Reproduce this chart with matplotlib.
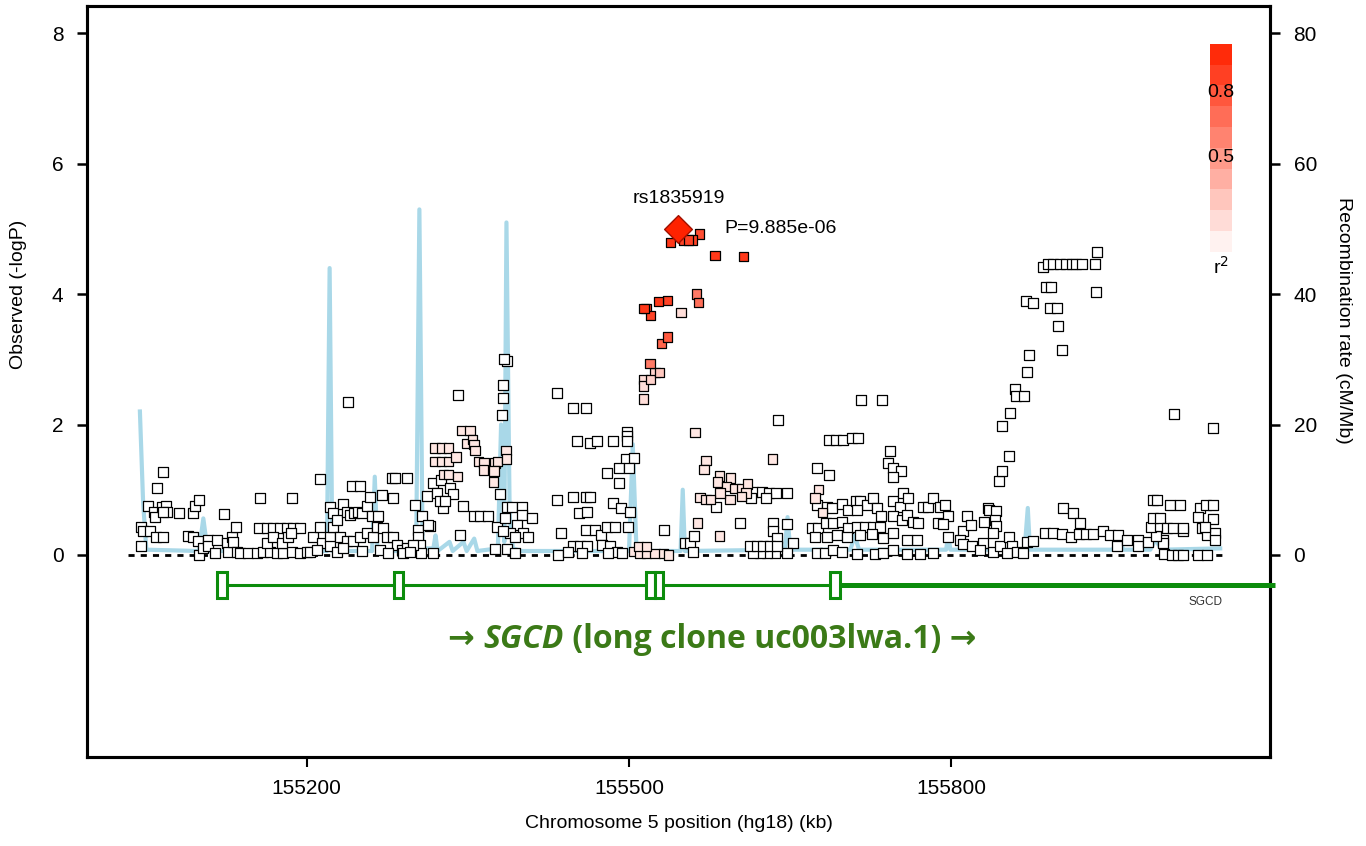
import numpy as np
import matplotlib
matplotlib.use("Agg")
import matplotlib.pyplot as plt
from matplotlib.colors import LinearSegmentedColormap
from matplotlib.patches import Rectangle

plt.rcParams["font.family"] = ["Liberation Sans", "DejaVu Sans"]

# SNPs with r2 ~ 0 (white squares): position (kb) and -log10 P
nold_kb = [
    155045.7, 155045.7, 155047.6, 155054.4, 155052.9, 155060.6, 155066.8, 155058.1, 155059.1, 155065.3,
    155069.3, 155069.9, 155066.8, 155060.0, 155066.8, 155081.7, 155094.7, 155096.3, 155100.0, 155090.1,
    155094.7, 155099.4, 155100.3, 155104.0, 155108.7, 155108.7, 155116.4, 155114.9, 155123.3, 155125.7,
    155130.4, 155134.4, 155127.3, 155131.9, 155135.0, 155138.1, 155145.9, 155153.6, 155159.8, 155166.0,
    155172.2, 155178.4, 155186.2, 155194.0, 155200.2, 155156.7, 155186.2, 155156.1, 155163.0, 155169.2,
    155175.4, 155181.6, 155187.8, 155194.0, 155163.0, 155169.2, 155176.9, 155183.1, 155185.3, 155206.4,
    155212.6, 155214.1, 155221.9, 155221.9, 155225.0, 155212.6, 155221.9, 155225.0, 155228.7, 155233.7,
    155237.4, 155240.5, 155244.2, 155248.2, 155251.3, 155256.0, 155259.1, 155242.0, 155249.8, 155231.2,
    155237.4, 155243.6, 155249.8, 155256.0, 155262.2, 155265.3, 155271.5, 155274.6, 155280.8, 155283.9,
    155288.5, 155260.6, 155266.8, 155269.9, 155280.8, 155279.2, 155282.3, 155293.2, 155239.0, 155300.9,
    155307.1, 155314.9, 155311.8, 155318.0, 155321.7, 155324.8, 155327.3, 155333.5, 155336.6, 155324.2,
    155328.9, 155341.3, 155383.1, 155383.1, 155381.6, 155386.2, 155384.0, 155380.0, 155345.3, 155355.8,
    155361.4, 155369.2, 155342.8, 155386.2, 155390.9, 155400.2, 155400.2, 155410.1, 155376.9, 155384.7,
    155395.5, 155389.3, 155401.7, 155394.0, 155406.4, 155383.1, 155375.4, 155386.2, 155394.0, 155304.0,
    155304.0, 155305.6, 155306.2, 155318.0, 155293.2, 155299.4, 155313.4, 155203.0, 155210.0, 155228.0,
    155234.0, 155252.0, 155268.0, 155276.0, 155290.0, 155296.0,
    155433.3, 155448.2, 155460.0, 155451.9, 155463.7, 155470.5, 155484.8, 155497.8, 155498.4, 155498.4,
    155497.2, 155504.7, 155491.0, 155500.3, 155479.2, 155491.0, 155433.3, 155448.2, 155460.0, 155463.7,
    155453.8, 155460.6, 155484.8, 155492.2, 155500.9, 155436.4, 155460.0, 155468.4, 155473.6, 155479.2,
    155487.0, 155499.4, 155448.2, 155454.4, 155460.6, 155474.6, 155482.3, 155488.5, 155434.3, 155443.6,
    155456.0, 155480.8, 155493.2, 155532.6, 155552.1, 155556.7, 155560.5, 155559.9, 155603.3, 155615.7,
    155623.4, 155630.6, 155636.8, 155646.7, 155627.5, 155613.2, 155581.0, 155638.9, 155634.3, 155646.7,
    155634.3, 155638.0, 155652.9, 155646.7, 155635.8, 155628.1, 155621.9, 155615.7, 155612.6, 155618.8,
    155625.0, 155631.2, 155637.4, 155715.5, 155735.0, 155686.4, 155692.6, 155699.4, 155707.1, 155713.4,
    155742.8, 155741.3, 155745.9, 155752.7, 155745.3, 155674.6, 155686.4, 155674.6, 155684.5, 155688.6,
    155697.8, 155704.0, 155711.2, 155714.9, 155721.1, 155726.7, 155730.4, 155734.2, 155712.4, 155669.9,
    155676.1, 155683.3, 155690.1, 155697.8, 155704.0, 155711.8, 155719.5, 155727.3, 155733.5, 155673.0,
    155683.9, 155693.2, 155702.5, 155714.9, 155725.8, 155736.6, 155674.6, 155682.3, 155690.1, 155697.8,
    155711.8, 155728.9, 155736.6, 155745.9, 155758.3, 155770.7, 155783.1, 155745.3, 155752.1, 155755.2,
    155759.8, 155746.0, 155753.7, 155758.3, 155764.5, 155769.2, 155773.2, 155778.5, 155783.1, 155789.3,
    155794.0, 155797.1, 155787.8, 155792.4, 155797.1, 155767.6, 155758.3, 155745.9,
    155810.4, 155814.2, 155817.9, 155808.0, 155810.4, 155818.8, 155829.0, 155830.3, 155834.3, 155835.2,
    155841.5, 155840.5, 155841.5, 155839.0, 155826.6, 155839.0, 155845.2, 155853.8, 155856.0, 155851.4,
    155860.7, 155866.9, 155870.0, 155876.2, 155887.0, 155894.8, 155902.5, 155910.9, 155919.0, 155925.2,
    155932.0, 155941.3, 155947.5, 155955.2, 155953.7, 155963.0, 155973.9, 155973.9, 155983.2, 155996.5,
    155997.1, 155990.3, 155985.3, 155994.0, 155987.2, 155994.0, 156000.2, 156006.4, 156015.1, 156015.7,
    155987.2, 155990.9, 156003.3, 156012.5, 155997.7, 156004.9, 156011.1, 156015.7, 156029.7, 156037.4,
    156031.2, 156036.8, 156043.6, 156029.7, 156043.6, 156032.8, 156038.0, 156045.2, 156045.2, 156035.9,
    156007.0, 156043.6, 155903.5, 155913.4, 155919.6, 155844.5, 155846.7, 155853.8, 155846.7, 155854.5,
    155859.1, 155860.0, 155867.4, 155870.6, 155872.4, 155869.3, 155875.5, 155887.9, 155892.3, 155891.6,
    155898.5, 155899.4, 155903.1, 155885.4, 155890.1, 155894.7, 155900.9, 155906.5, 155911.8, 155915.8,
    155921.1, 155933.5, 155935.0, 155934.4,
]
nold_logp = [
    0.13, 0.43, 0.36, 0.37, 0.75, 1.02, 1.27, 0.66, 0.58, 0.74,
    0.75, 0.66, 0.66, 0.27, 0.27, 0.65, 0.65, 0.75, 0.84, 0.29,
    0.28, 0.21, 0.00, 0.10, 0.23, 0.13, 0.23, 0.03, 0.63, 0.18,
    0.28, 0.43, 0.05, 0.20, 0.04, 0.03, 0.03, 0.03, 0.05, 0.04,
    0.03, 0.03, 0.04, 0.03, 0.04, 0.87, 0.87, 0.42, 0.42, 0.42,
    0.42, 0.42, 0.42, 0.42, 0.18, 0.28, 0.18, 0.28, 0.34, 0.28,
    0.43, 0.18, 0.28, 0.13, 0.43, 1.16, 0.74, 0.64, 0.54, 0.78,
    0.66, 0.61, 0.64, 0.66, 0.64, 0.75, 0.89, 1.06, 1.06, 0.28,
    0.22, 0.22, 0.28, 0.33, 0.28, 0.43, 0.42, 0.28, 0.28, 0.15,
    0.08, 0.59, 0.59, 0.92, 0.87, 1.18, 1.18, 1.18, 2.34, 0.77,
    0.59, 0.44, 0.90, 1.10, 0.95, 1.15, 0.72, 1.02, 0.94, 0.83,
    0.83, 2.45, 2.61, 2.40, 2.15, 2.97, 3.00, 0.94, 0.75, 0.59,
    0.59, 0.59, 0.31, 0.74, 0.74, 0.74, 0.61, 0.56, 0.43, 0.56,
    0.46, 0.34, 0.33, 0.28, 0.28, 0.36, 0.09, 0.09, 0.03, 0.38,
    0.28, 0.15, 0.03, 0.03, 0.10, 0.15, 0.46, 0.05, 0.08, 0.05,
    0.10, 0.06, 0.08, 0.03, 0.03, 0.05,
    2.49, 2.26, 2.26, 1.75, 1.72, 1.75, 1.75, 1.89, 1.83, 1.74,
    1.47, 1.49, 1.34, 1.34, 1.26, 1.10, 0.84, 0.89, 0.89, 0.89,
    0.64, 0.66, 0.79, 0.72, 0.66, 0.34, 0.38, 0.38, 0.31, 0.43,
    0.43, 0.43, 0.13, 0.13, 0.13, 0.15, 0.13, 0.05, 0.00, 0.05,
    0.03, 0.03, 0.03, 0.38, 0.18, 0.18, 0.29, 0.04, 0.49, 0.97,
    0.97, 0.95, 0.95, 0.95, 0.87, 0.88, 0.74, 2.07, 0.49, 0.48,
    0.36, 0.26, 0.18, 0.03, 0.03, 0.03, 0.03, 0.03, 0.13, 0.13,
    0.13, 0.13, 0.13, 2.37, 2.37, 1.76, 1.76, 1.76, 1.80, 1.80,
    1.60, 1.41, 1.34, 1.28, 1.19, 1.33, 1.23, 0.77, 0.74, 0.72,
    0.78, 0.69, 0.82, 0.82, 0.77, 0.88, 0.72, 0.59, 0.69, 0.42,
    0.42, 0.49, 0.49, 0.51, 0.41, 0.43, 0.43, 0.43, 0.43, 0.28,
    0.28, 0.31, 0.28, 0.31, 0.32, 0.26, 0.03, 0.03, 0.08, 0.05,
    0.02, 0.02, 0.03, 0.08, 0.02, 0.02, 0.03, 0.82, 0.74, 0.95,
    0.87, 0.59, 0.54, 0.61, 0.51, 0.49, 0.74, 0.74, 0.87, 0.74,
    0.77, 0.59, 0.49, 0.48, 0.28, 0.23, 0.23, 0.33,
    0.36, 0.59, 0.46, 0.23, 0.17, 0.13, 0.18, 0.50, 0.72, 0.69,
    0.68, 0.54, 0.44, 0.33, 0.07, 0.05, 0.13, 0.28, 0.14, 0.03,
    0.05, 0.03, 0.20, 0.22, 0.34, 0.33, 0.32, 0.27, 0.32, 0.32,
    0.32, 0.36, 0.31, 0.31, 0.13, 0.23, 0.23, 0.13, 0.20, 0.23,
    0.18, 0.29, 0.43, 0.44, 0.56, 0.56, 0.41, 0.41, 0.36, 0.41,
    0.84, 0.84, 0.77, 0.77, 0.02, 0.00, 0.00, 0.00, 0.00, 0.00,
    0.72, 0.77, 0.77, 0.58, 0.55, 0.41, 0.31, 0.34, 0.23, 0.43,
    2.16, 1.95, 0.72, 0.65, 0.49, 1.14, 1.29, 1.51, 1.97, 2.17,
    2.54, 2.43, 2.44, 2.80, 3.06, 3.90, 3.86, 4.11, 4.11, 3.78,
    3.78, 3.51, 3.14, 4.42, 4.46, 4.47, 4.47, 4.47, 4.47, 4.47,
    4.47, 4.47, 4.65, 4.04,
]

# SNPs in weak LD (r2 ~ 0.1, faint pink squares)
weak_kb = [
    155319.5, 155325.7, 155331.9, 155319.5, 155325.7, 155331.9, 155339.1, 155327.3, 155331.9, 155340.3,
    155344.4, 155352.1, 155349.0, 155354.6, 155355.8, 155356.8, 155359.9, 155365.1, 155364.5, 155375.4,
    155377.5, 155374.4, 155373.8, 155385.6, 155386.2,
    155504.0, 155510.2, 155516.4, 155524.2, 155531.9, 155536.6, 155508.7, 155516.4, 155563.6, 155561.4,
    155571.6, 155569.8, 155584.0, 155582.2, 155594.6, 155590.9, 155598.6, 155604.8, 155610.1, 155608.9,
    155604.8, 155594.0, 155584.7, 155566.1, 155571.6, 155576.0, 155584.0, 155633.7, 155676.1, 155673.0,
    155680.2,
]
weak_logp = [
    1.64, 1.64, 1.64, 1.43, 1.43, 1.43, 1.50, 1.23, 1.23, 1.20,
    1.91, 1.91, 1.71, 1.77, 1.69, 1.60, 1.43, 1.41, 1.30, 1.41,
    1.43, 1.29, 1.12, 1.60, 1.47,
    0.05, 0.03, 0.02, 0.02, 0.02, 0.00, 0.13, 0.13, 0.49, 1.88,
    1.45, 1.31, 1.21, 1.12, 1.18, 1.05, 1.02, 1.02, 1.09, 0.95,
    0.90, 0.85, 0.95, 0.88, 0.85, 0.85, 0.29, 1.47, 1.00, 0.87,
    0.65,
]

# SNPs in LD with the index SNP
ld_kb = [
    155538.8, 155550.5, 155555.2, 155559.2, 155565.4, 155580.0, 155606.4, 155514.0, 155515.8, 155520.2,
    155527.3, 155535.7, 155563.0, 155564.5, 155548.4, 155535.7, 155530.4, 155519.5, 155528.2, 155524.2,
    155513.3, 155520.2, 155513.3, 155513.3,
]
ld_logp = [
    4.79, 4.83, 4.83, 4.83, 4.92, 4.59, 4.58, 3.78, 3.78, 3.67,
    3.89, 3.90, 4.00, 3.87, 3.72, 3.34, 3.24, 2.94, 2.80, 2.80,
    2.69, 2.69, 2.59, 2.39,
]
ld_r2 = [
    0.90, 0.85, 0.85, 0.85, 0.80, 0.90, 0.90, 0.90, 0.85, 0.85,
    0.90, 0.85, 0.60, 0.65, 0.15, 0.75, 0.70, 0.60, 0.25, 0.20,
    0.15, 0.20, 0.15, 0.15,
]

top_snp = "rs1835919"
top_kb = 155545.9
top_pval = 9.885e-06

# recombination rate (cM/Mb)
recomb_kb = [
    155045, 155048, 155051, 155100, 155104, 155108, 155219, 155221.5, 155224, 155261,
    155263.5, 155266, 155302, 155305, 155308, 155318, 155320, 155322, 155333, 155336,
    155346, 155349, 155356, 155359, 155378, 155381, 155384, 155386, 155389, 155392,
    155400, 155500, 155503.5, 155507, 155548, 155550, 155552, 155645, 155647.5, 155650,
    155706, 155710, 155714, 155795, 155797, 155799, 155868, 155871, 155873, 155950,
    155955, 155960, 155985, 155990, 155995, 156050,
]
recomb_rate = [
    22, 8, 0.8, 0.6, 5.6, 0.6, 0.6, 44, 0.6, 0.6,
    12, 0.6, 0.6, 53, 1.0, 1.0, 3, 0.6, 2, 0.6,
    2, 0.6, 2.5, 0.6, 1, 20, 2, 51, 6, 1.0,
    0.6, 0.6, 17, 0.6, 0.6, 10, 0.6, 0.8, 5.8, 0.8,
    0.8, 3, 0.8, 0.8, 3, 0.8, 0.8, 7.2, 0.8, 0.8,
    2.5, 0.8, 0.8, 2.4, 0.8, 1.0,
]

# SGCD exons (kb)
exon_start = [155117.0, 155281.4, 155515.8, 155524.0, 155687.2]
exon_end = [155125.7, 155290.0, 155524.0, 155531.9, 155696.5]
gene_end = 156101.0

legend_ticks = ["0.8", "0.5"]
x_ticks = [155200, 155500, 155800]
y_ticks = [0, 2, 4, 6, 8]
recomb_ticks = [0, 20, 40, 60, 80]

GREEN = "#0c8c0c"
TEXT_GREEN = "#3b7a17"
LD_CMAP = LinearSegmentedColormap.from_list("ld", ["#ffffff", "#ff2200"])


def draw_points(ax):
    """Scatter the SNPs, coloured by r2 with the index SNP."""
    sq = dict(marker="s", s=46, edgecolors="black", linewidths=0.9, zorder=5)
    ax.scatter(nold_kb, nold_logp, c="white", **sq)
    ax.scatter(weak_kb, weak_logp, c=[LD_CMAP(0.11)] * len(weak_kb), **sq)

    order = np.argsort(ld_r2)
    ax.scatter(np.array(ld_kb)[order], np.array(ld_logp)[order],
               c=LD_CMAP(np.array(ld_r2)[order]), **sq)

    top_logp = -np.log10(top_pval)
    ax.scatter([top_kb], [top_logp], marker="D", s=200, c="#ff2200",
               edgecolors="#a01000", linewidths=1.0, zorder=7)
    ax.text(top_kb, top_logp + 0.46, top_snp, ha="center", va="center", fontsize=14)
    ax.text(top_kb + 42.5, top_logp + 0.0, f"P={top_pval:.3e}", ha="left",
            va="center", fontsize=14)


def draw_gene(ax):
    """Gene track with exons and the clone label."""
    y = -0.46
    ax.plot([exon_start[0], exon_start[-1]], [y, y], color=GREEN, lw=2.2,
            solid_capstyle="butt", zorder=3)
    ax.plot([exon_start[-1], gene_end], [y, y], color=GREEN, lw=3.6,
            solid_capstyle="butt", zorder=3, clip_on=False)
    for s, e in zip(exon_start, exon_end):
        ax.add_patch(Rectangle((s, -0.655), e - s, 0.39, facecolor="white",
                               edgecolor=GREEN, lw=2.2, zorder=4))
    ax.text(156036, -0.63, "SGCD", ha="center", va="top", fontsize=8.5, color="#333333")

    kw = dict(fontsize=23, color=TEXT_GREEN, fontweight="bold",
              family=["Open Sans", "DejaVu Sans"])
    t1 = ax.text(155332, -1.30, "\u2192 ", ha="left", va="center", **kw)
    t2 = ax.annotate("SGCD", xycoords=t1, xy=(1, 0), va="bottom", style="italic", **kw)
    ax.annotate(" (long clone uc003lwa.1) \u2192", xycoords=t2, xy=(1, 0), va="bottom", **kw)


def draw_legend(ax):
    """r2 colour key in the upper right corner."""
    x0, width = 156040.5, 20.5
    top, bottom = 7.84, 4.65
    n = 10
    h = (top - bottom) / n
    for i in range(n):
        ax.add_patch(Rectangle((x0, bottom + i * h), width, h, facecolor=LD_CMAP((i + 0.6) / n),
                               edgecolor="none", zorder=6))
    xc = x0 + width / 2
    ax.text(xc, 7.09, legend_ticks[0], ha="center", va="center", fontsize=14, zorder=7)
    ax.text(xc, 6.10, legend_ticks[1], ha="center", va="center", fontsize=14, zorder=7)
    ax.text(xc, 4.42, "r$^2$", ha="center", va="center", fontsize=14, zorder=7)


def main():
    fig = plt.figure(figsize=(13.66, 8.46), dpi=100)
    ax = fig.add_axes([0.0637, 0.1052, 0.8660, 0.8877])
    ax2 = ax.twinx()

    xlim = (154995.8, 156096.3)
    ylim = (-3.10, 8.42)
    ax.set_xlim(*xlim)
    ax.set_ylim(*ylim)
    ax2.set_ylim(ylim[0] * 10, ylim[1] * 10)

    ax2.plot(recomb_kb, recomb_rate, color="#a9d8e8", lw=3.0, zorder=1,
             solid_joinstyle="round")
    ax.set_zorder(ax2.get_zorder() + 1)
    ax.patch.set_visible(False)

    ax.plot([155034, 156052], [0, 0], color="black", lw=2.0, ls=(0, (2.2, 2.2)), zorder=2)

    draw_points(ax)
    draw_gene(ax)
    draw_legend(ax)

    ax.set_xticks(x_ticks)
    ax.set_xticklabels([str(v) for v in x_ticks])
    ax.set_yticks(y_ticks)
    ax2.set_yticks(recomb_ticks)
    ax.tick_params(axis="x", length=7, width=1.5, labelsize=15, pad=9)
    ax.tick_params(axis="y", length=7, width=1.8, labelsize=15, pad=10)
    ax2.tick_params(axis="y", length=7, width=1.8, labelsize=15, pad=10)
    for a in (ax, ax2):
        for sp in a.spines.values():
            sp.set_linewidth(2.2)

    ax.set_xlabel("Chromosome 5 position (hg18) (kb)", fontsize=14, labelpad=12)
    ax.set_ylabel("Observed (-logP)", fontsize=14)
    ax2.set_ylabel("Recombination rate (cM/Mb)", fontsize=14, rotation=270)
    # LocusZoom centres the axis titles on the data range, not the whole panel
    ax.yaxis.set_label_coords(-0.051, (4 - ylim[0]) / (ylim[1] - ylim[0]))
    ax2.yaxis.set_label_coords(1.069, (3.6 - ylim[0]) / (ylim[1] - ylim[0]))

    fig.savefig("out.png", dpi=100)
    plt.close(fig)


if __name__ == "__main__":
    main()
